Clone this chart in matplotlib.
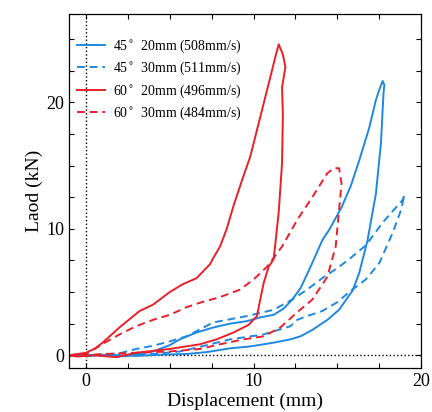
import matplotlib
matplotlib.use("Agg")
import matplotlib.pyplot as plt
from matplotlib.ticker import MultipleLocator

plt.rcParams['font.family'] = ['Liberation Serif', 'DejaVu Serif']

# 45 deg, 20 mm (508 mm/s) - loading then unloading
b20_x = [-1.0, 0.0, 1.0, 2.0, 3.0, 4.0, 5.0, 5.6, 6.6, 7.6, 8.6, 9.6, 10.4, 11.2, 11.8,
         12.3, 12.8, 13.4, 14.1, 14.5, 15.25, 15.8, 16.3, 16.9, 17.3, 17.5, 17.7, 17.8,
         17.75, 17.6, 17.3, 16.8, 16.3, 15.9, 15.1, 14.4, 13.5, 12.8, 12.2, 11.2, 10.6,
         9.8, 8.6, 7.2, 6.0, 4.5, 3.0, 1.5, 0.0, -1.0]
b20_y = [0.0, -0.05, 0.05, -0.1, 0.1, 0.3, 0.8, 1.26, 1.8, 2.2, 2.5, 2.7, 3.0, 3.2, 3.7,
         4.4, 5.3, 7.0, 9.1, 9.9, 11.7, 13.4, 15.4, 18.0, 20.2, 21.0, 21.7, 21.4,
         20.7, 16.8, 12.8, 9.1, 6.5, 5.1, 3.6, 2.8, 2.0, 1.5, 1.26, 1.0, 0.87,
         0.7, 0.55, 0.25, 0.1, 0.05, -0.05, 0.0, 0.0, 0.0]

# 45 deg, 30 mm (511 mm/s)
b30_x = [-1.0, 0.0, 1.0, 2.0, 3.0, 4.0, 5.0, 6.0, 7.6, 9.6, 11.2, 12.3, 13.2, 14.1, 15.0,
         15.7, 16.7, 17.7, 18.5, 18.9, 19.0, 18.8, 18.3, 17.5, 16.7, 15.7, 15.0, 14.1,
         13.2, 12.6, 12.2, 10.6, 8.6, 6.6, 5.6, 4.0, 2.0, 0.0, -1.0]
b30_y = [0.0, 0.0, 0.05, 0.15, 0.5, 0.75, 1.1, 1.5, 2.6, 3.1, 3.6, 4.4, 5.2, 6.1, 6.9,
         7.6, 8.7, 10.5, 11.7, 12.3, 12.7, 11.5, 9.7, 7.3, 6.0, 5.0, 4.2, 3.5,
         3.1, 2.8, 2.3, 1.65, 1.26, 0.6, 0.3, 0.1, 0.0, 0.0, 0.0]

# 60 deg, 20 mm (496 mm/s)
r20_x = [-1.0, -0.5, 0.0, 0.5, 1.0, 2.0, 3.2, 4.0, 5.0, 5.75, 6.6, 7.4, 7.6, 8.0, 8.4,
         8.8, 9.3, 9.8, 10.2, 10.6, 11.0, 11.3, 11.5, 11.75, 11.9, 11.7, 11.75, 11.7,
         11.5, 11.2, 10.9, 10.6, 10.2, 9.7, 8.8, 7.8, 6.8, 5.0, 3.0, 1.8, 0.5, -0.5, -1.0]
r20_y = [0.0, 0.1, 0.2, 0.5, 1.0, 2.2, 3.5, 4.0, 5.0, 5.6, 6.1, 7.2, 7.7, 8.6, 10.0,
         11.8, 13.8, 15.7, 17.8, 19.9, 22.0, 23.6, 24.6, 23.8, 22.8, 21.2, 19.1, 15.2,
         11.3, 7.6, 7.0, 5.7, 3.1, 2.4, 1.8, 1.26, 0.87, 0.5, 0.2, -0.15, 0.0, -0.1, 0.0]

# 60 deg, 30 mm (484 mm/s)
r30_x = [-1.0, 0.0, 0.65, 1.0, 2.0, 3.0, 4.0, 5.0, 6.0, 6.9, 8.0, 9.2, 10.0, 10.8, 11.7,
         12.6, 13.5, 14.4, 14.8, 15.1, 15.25, 15.1, 14.9, 14.4, 13.5, 12.6, 11.6, 10.6,
         9.4, 8.0, 6.8, 5.0, 3.0, 1.0, 0.0, -1.0]
r30_y = [0.0, 0.1, 0.6, 0.9, 1.65, 2.3, 2.8, 3.2, 3.8, 4.2, 4.6, 5.2, 6.0, 7.0, 8.6,
         10.7, 12.5, 14.4, 14.8, 14.8, 13.6, 11.5, 8.6, 6.2, 4.4, 3.4, 2.2, 1.5,
         1.26, 0.87, 0.5, 0.3, 0.2, 0.1, 0.0, 0.0]

labels = ['45$^{\\circ}$  20mm (508mm/s)', '45$^{\\circ}$  30mm (511mm/s)',
          '60$^{\\circ}$  20mm (496mm/s)', '60$^{\\circ}$  30mm (484mm/s)']

blue = '#1f88e0'
red = '#e8202a'

fig = plt.figure(figsize=(4.32, 4.12), dpi=100)
ax = fig.add_axes([0.160, 0.107, 0.815, 0.859])

ax.axvline(0, color='k', ls=':', lw=1)
ax.axhline(0, color='k', ls=':', lw=1)

ax.plot(b20_x, b20_y, color=blue, lw=1.4, label=labels[0])
ax.plot(b30_x, b30_y, color=blue, lw=1.4, ls=(0, (4, 2.5)), label=labels[1])
ax.plot(r20_x, r20_y, color=red, lw=1.4, label=labels[2])
ax.plot(r30_x, r30_y, color=red, lw=1.4, ls=(0, (4, 2.5)), label=labels[3])

ax.set_xlim(-1, 20)
ax.set_ylim(-1, 27)
ax.xaxis.set_major_locator(MultipleLocator(10))
ax.xaxis.set_minor_locator(MultipleLocator(2.5))
ax.yaxis.set_major_locator(MultipleLocator(10))
ax.yaxis.set_minor_locator(MultipleLocator(2.5))
ax.tick_params(which='both', direction='in', top=True, right=True, length=3.5, width=0.8)
ax.tick_params(labelsize=13)
for s in ax.spines.values():
    s.set_linewidth(0.9)

ax.set_xlabel('Displacement (mm)', fontsize=14, labelpad=2)
ax.set_ylabel('Laod (kN)', fontsize=14, labelpad=2)

ax.legend(loc='upper left', frameon=False, fontsize=10, labelspacing=0.35,
          handlelength=2.0, handletextpad=0.6, borderaxespad=0.3,
          bbox_to_anchor=(-0.005, 0.96))

fig.savefig('out.png', dpi=100)
